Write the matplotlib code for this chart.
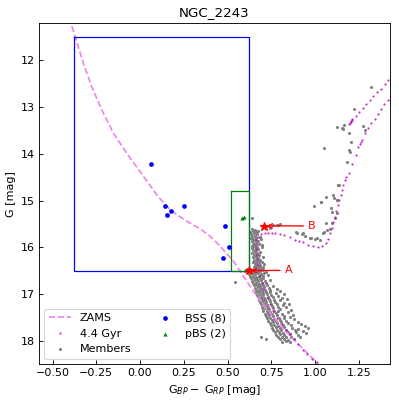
from __future__ import annotations

import matplotlib

matplotlib.use("Agg")

import matplotlib.pyplot as plt
import numpy as np


TITLE = "NGC_2243"
X_LIMITS = (-0.579, 1.427)
Y_LIMITS = (18.49, 11.21)
X_TICKS = [-0.50, -0.25, 0.00, 0.25, 0.50, 0.75, 1.00, 1.25]
Y_TICKS = [12, 13, 14, 15, 16, 17, 18]

# blue straggler selection boxes: (color_min, color_max, mag_bright, mag_faint)
BSS_BOX = (-0.377, 0.625, 11.52, 16.50)
PBS_BOX = (0.522, 0.625, 14.80, 16.50)

ZAMS_COLOR = [-0.405, -0.371, -0.324, -0.276, -0.219, -0.152, -0.076, 0.015,
              0.100, 0.155, 0.210, 0.267, 0.343, 0.400, 0.457, 0.533, 0.590,
              0.667, 0.743, 0.819, 0.895, 0.990, 1.030]
ZAMS_MAG = [11.10, 11.50, 12.07, 12.57, 13.06, 13.56, 13.99, 14.46,
            14.90, 15.13, 15.30, 15.44, 15.60, 15.76, 15.97, 16.29, 16.61,
            17.04, 17.39, 17.74, 18.03, 18.38, 18.55]

ISO_COLOR = [1.010, 0.981, 0.956, 0.933, 0.905, 0.880, 0.857, 0.834, 0.810,
             0.785, 0.762, 0.743, 0.724, 0.705, 0.695, 0.686, 0.680, 0.676,
             0.671, 0.666, 0.662, 0.660, 0.662, 0.672, 0.690, 0.712, 0.732,
             0.752, 0.771, 0.798, 0.825, 0.855, 0.886, 0.910, 0.930, 0.962,
             0.989, 1.015, 1.042, 1.063, 1.076, 1.087, 1.097, 1.103, 1.114,
             1.122, 1.130, 1.139, 1.147, 1.156, 1.162, 1.170, 1.179, 1.194,
             1.213, 1.231, 1.248, 1.256, 1.263, 1.268, 1.284, 1.305, 1.322,
             1.341, 1.358, 1.377, 1.395, 1.415, 1.440]
ISO_MAG = [18.45, 18.37, 18.28, 18.19, 18.06, 17.96, 17.85, 17.75, 17.64,
           17.50, 17.35, 17.21, 17.07, 16.89, 16.75, 16.61, 16.48, 16.37,
           16.26, 16.15, 16.04, 15.94, 15.85, 15.77, 15.72, 15.70, 15.70,
           15.70, 15.70, 15.72, 15.74, 15.78, 15.83, 15.86, 15.89, 15.94,
           15.97, 15.98, 15.96, 15.90, 15.82, 15.70, 15.58, 15.46, 15.35,
           15.23, 15.10, 14.99, 14.87, 14.77, 14.66, 14.57, 14.50, 14.41,
           14.22, 14.02, 13.86, 13.80, 13.74, 13.70, 13.56, 13.45, 13.35,
           13.25, 13.15, 13.05, 12.95, 12.85, 12.72]

CLUMP_COLOR = [1.196, 1.200, 1.203, 1.206, 1.210, 1.213, 1.233, 1.251, 1.272,
               1.293, 1.314, 1.333, 1.356, 1.377, 1.398, 1.419, 1.440]
CLUMP_MAG = [13.37, 13.35, 13.33, 13.31, 13.29, 13.27, 13.19, 13.11, 13.02,
             12.94, 12.85, 12.77, 12.69, 12.62, 12.52, 12.43, 12.35]

MS_STARS = [
    (0.640, 15.60), (0.657, 15.62),
    (0.630, 15.66), (0.645, 15.64), (0.661, 15.67), (0.676, 15.65),
    (0.636, 15.71), (0.650, 15.70), (0.668, 15.72),
    (0.640, 15.76), (0.655, 15.75), (0.686, 15.77),
    (0.632, 15.80), (0.648, 15.81), (0.662, 15.79), (0.690, 15.82),
    (0.640, 15.86), (0.656, 15.84), (0.672, 15.87),
    (0.645, 15.91), (0.660, 15.90), (0.680, 15.92), (0.698, 15.94),
    (0.638, 15.97), (0.652, 15.95), (0.668, 15.98),
    (0.642, 16.01), (0.658, 16.00), (0.675, 16.03), (0.694, 16.00),
    (0.648, 16.06), (0.662, 16.05),
    (0.640, 16.11), (0.655, 16.10), (0.670, 16.12), (0.686, 16.09),
    (0.650, 16.16), (0.665, 16.15), (0.680, 16.17),
    (0.645, 16.21), (0.660, 16.20), (0.676, 16.22), (0.702, 16.20),
    (0.652, 16.26), (0.668, 16.25), (0.685, 16.27),
    (0.648, 16.31), (0.662, 16.30), (0.678, 16.32), (0.695, 16.30),
    (0.655, 16.36), (0.670, 16.35), (0.688, 16.37), (0.710, 16.35),
    (0.650, 16.41), (0.664, 16.40), (0.680, 16.42), (0.700, 16.41),
    (0.612, 16.46), (0.630, 16.45), (0.645, 16.47), (0.660, 16.45),
    (0.675, 16.46), (0.690, 16.44),
    (0.602, 16.51), (0.636, 16.50), (0.650, 16.52), (0.668, 16.50),
    (0.684, 16.51), (0.700, 16.49), (0.722, 16.52),
    (0.625, 16.56), (0.642, 16.55), (0.658, 16.57), (0.675, 16.55),
    (0.690, 16.56), (0.710, 16.55),
    (0.630, 16.61), (0.648, 16.60), (0.664, 16.62), (0.680, 16.60),
    (0.700, 16.61), (0.730, 16.59),
    (0.636, 16.66), (0.652, 16.65), (0.670, 16.67), (0.688, 16.65),
    (0.705, 16.66),
    (0.640, 16.71), (0.658, 16.70), (0.675, 16.72), (0.692, 16.70),
    (0.712, 16.71), (0.745, 16.69),
    (0.645, 16.76), (0.662, 16.75), (0.680, 16.77), (0.698, 16.75),
    (0.720, 16.76),
    (0.650, 16.81), (0.668, 16.80), (0.685, 16.82), (0.705, 16.80),
    (0.725, 16.81), (0.760, 16.82),
    (0.655, 16.86), (0.672, 16.85), (0.690, 16.87), (0.710, 16.85),
    (0.735, 16.86), (0.780, 16.88),
    (0.660, 16.91), (0.678, 16.90), (0.695, 16.92), (0.715, 16.90),
    (0.740, 16.91), (0.800, 16.93),
    (0.665, 16.96), (0.682, 16.95), (0.700, 16.97), (0.720, 16.95),
    (0.745, 16.96), (0.775, 16.98),
    (0.670, 17.01), (0.688, 17.00), (0.705, 17.02), (0.725, 17.00),
    (0.750, 17.01), (0.790, 17.03), (0.822, 17.00),
    (0.675, 17.06), (0.692, 17.05), (0.710, 17.07), (0.730, 17.05),
    (0.760, 17.06), (0.810, 17.08),
    (0.680, 17.11), (0.698, 17.10), (0.715, 17.12), (0.735, 17.10),
    (0.765, 17.11), (0.800, 17.13), (0.842, 17.10),
    (0.685, 17.16), (0.702, 17.15), (0.720, 17.17), (0.742, 17.15),
    (0.770, 17.16), (0.825, 17.18),
    (0.690, 17.21), (0.708, 17.20), (0.728, 17.22), (0.750, 17.20),
    (0.780, 17.21), (0.815, 17.23), (0.852, 17.21),
    (0.695, 17.26), (0.712, 17.25), (0.732, 17.27), (0.755, 17.25),
    (0.790, 17.26), (0.835, 17.28),
    (0.700, 17.31), (0.718, 17.30), (0.738, 17.32), (0.760, 17.30),
    (0.800, 17.31), (0.862, 17.33),
    (0.705, 17.36), (0.724, 17.35), (0.745, 17.37), (0.768, 17.35),
    (0.790, 17.36), (0.845, 17.38),
    (0.712, 17.41), (0.730, 17.40), (0.752, 17.42), (0.775, 17.40),
    (0.810, 17.41), (0.872, 17.43),
    (0.718, 17.46), (0.738, 17.45), (0.760, 17.47), (0.785, 17.45),
    (0.825, 17.46), (0.855, 17.48),
    (0.725, 17.51), (0.745, 17.50), (0.768, 17.52), (0.792, 17.50),
    (0.820, 17.51), (0.882, 17.53),
    (0.732, 17.56), (0.752, 17.55), (0.775, 17.57), (0.800, 17.55),
    (0.835, 17.56), (0.900, 17.58),
    (0.740, 17.61), (0.760, 17.60), (0.782, 17.62), (0.808, 17.60),
    (0.845, 17.61), (0.920, 17.63),
    (0.748, 17.66), (0.768, 17.65), (0.790, 17.67), (0.815, 17.65),
    (0.860, 17.66), (0.940, 17.68),
    (0.755, 17.71), (0.775, 17.70), (0.800, 17.72), (0.825, 17.70),
    (0.870, 17.71), (0.905, 17.73), (0.958, 17.71),
    (0.762, 17.76), (0.785, 17.75), (0.808, 17.77), (0.835, 17.75),
    (0.885, 17.76), (0.930, 17.78),
    (0.770, 17.81), (0.792, 17.80), (0.815, 17.82), (0.845, 17.80),
    (0.890, 17.81), (0.948, 17.83),
    (0.778, 17.86), (0.800, 17.85), (0.825, 17.87), (0.855, 17.85),
    (0.900, 17.86),
    (0.690, 17.92), (0.790, 17.91), (0.810, 17.90), (0.835, 17.92),
    (0.865, 17.90), (0.915, 17.92),
    (0.720, 17.96), (0.800, 17.96), (0.820, 17.95), (0.845, 17.97),
    (0.880, 17.95),
    (0.812, 18.01), (0.832, 18.00), (0.856, 18.02),
    (0.543, 16.74), (0.638, 15.38),
]

SUBGIANT_STARS = [
    (0.724, 15.55), (0.743, 15.58), (0.762, 15.51), (0.781, 15.51),
    (0.790, 15.52), (0.800, 15.49), (0.891, 15.67), (0.895, 15.70),
    (0.924, 15.72), (0.930, 15.70), (0.943, 15.76), (0.971, 15.79),
    (0.977, 15.79), (1.000, 15.81), (1.010, 15.79), (1.030, 15.83),
    (1.048, 15.70), (1.053, 15.67), (1.067, 15.62), (1.063, 15.48),
    (1.086, 15.60), (1.095, 15.48),
]

GIANT_STARS = [
    (0.996, 15.12), (1.032, 15.04), (1.034, 15.04), (1.063, 14.92),
    (1.091, 15.16), (1.095, 15.24), (1.105, 14.87), (1.110, 14.94),
    (1.124, 14.99), (1.128, 14.98), (1.114, 15.37), (1.124, 15.26),
    (1.129, 14.67), (1.130, 14.66), (1.139, 14.67), (1.183, 14.18),
    (1.192, 13.93), (1.200, 13.96), (1.208, 13.74), (1.051, 13.87),
    (1.124, 13.42), (1.152, 13.45), (1.158, 13.48), (1.166, 13.38),
    (1.196, 13.55), (1.276, 13.40), (1.286, 13.50), (1.223, 13.05),
    (1.318, 12.58),
]

BSS_COLOR = [0.063, 0.143, 0.152, 0.179, 0.250, 0.487, 0.510, 0.472]
BSS_MAG = [14.21, 15.11, 15.30, 15.22, 15.11, 15.55, 15.99, 16.22]

PBS_COLOR = [0.581, 0.596]
PBS_MAG = [15.37, 15.35]

MARKER_LABELS = ["A", "B"]
MARKER_COLOR = [0.620, 0.710]
MARKER_MAG = [16.49, 15.54]
MARKER_TEXT_COLOR = [0.825, 0.960]


def draw_box(ax, box, color):
    x0, x1, y0, y1 = box
    ax.plot([x0, x1, x1, x0, x0], [y0, y0, y1, y1, y0], color=color, lw=1.1)


def main() -> None:
    plt.rcParams["font.family"] = "DejaVu Sans"
    fig = plt.figure(figsize=(399 / 80, 402 / 80), dpi=80)
    ax = fig.add_axes([0.097, 0.094, 0.880, 0.849])

    members = np.array(MS_STARS + SUBGIANT_STARS + GIANT_STARS)

    ax.plot(ZAMS_COLOR, ZAMS_MAG, ls="--", color="violet", lw=1.5, label="ZAMS")
    ax.plot(ISO_COLOR, ISO_MAG, ls="none", marker="o", ms=2.0, mew=0,
            color="m", alpha=0.8, label="4.4 Gyr")
    ax.plot(CLUMP_COLOR, CLUMP_MAG, ls="none", marker="o", ms=2.0, mew=0,
            color="m", alpha=0.8)
    ax.scatter(members[:, 0], members[:, 1], s=8, color="gray", linewidths=0,
               label="Members")

    draw_box(ax, BSS_BOX, "b")
    draw_box(ax, PBS_BOX, "g")

    ax.scatter(BSS_COLOR, BSS_MAG, s=18, color="b", linewidths=0,
               label=f"BSS ({len(BSS_COLOR)})", zorder=3)
    ax.scatter(PBS_COLOR, PBS_MAG, s=14, color="g", marker="^", linewidths=0,
               label=f"pBS ({len(PBS_COLOR)})", zorder=3)

    for label, x, y, tx in zip(MARKER_LABELS, MARKER_COLOR, MARKER_MAG, MARKER_TEXT_COLOR):
        ax.plot(x, y, marker="*", color="r", ms=8, zorder=4)
        ax.annotate(label, xy=(x, y), xytext=(tx, y), color="r", fontsize=10,
                    ha="left", va="center",
                    arrowprops=dict(arrowstyle="->", color="r", lw=1.2))

    ax.set_xlim(*X_LIMITS)
    ax.set_ylim(*Y_LIMITS)
    ax.set_xticks(X_TICKS)
    ax.set_yticks(Y_TICKS)
    ax.tick_params(direction="in")
    ax.set_xlabel(r"G$_{BP}-$ G$_{RP}$ [mag]")
    ax.set_ylabel("G [mag]")
    ax.set_title(TITLE)
    ax.legend(loc="lower left", ncol=2)

    fig.savefig("out.png", dpi=80)
    plt.close(fig)


if __name__ == "__main__":
    main()
